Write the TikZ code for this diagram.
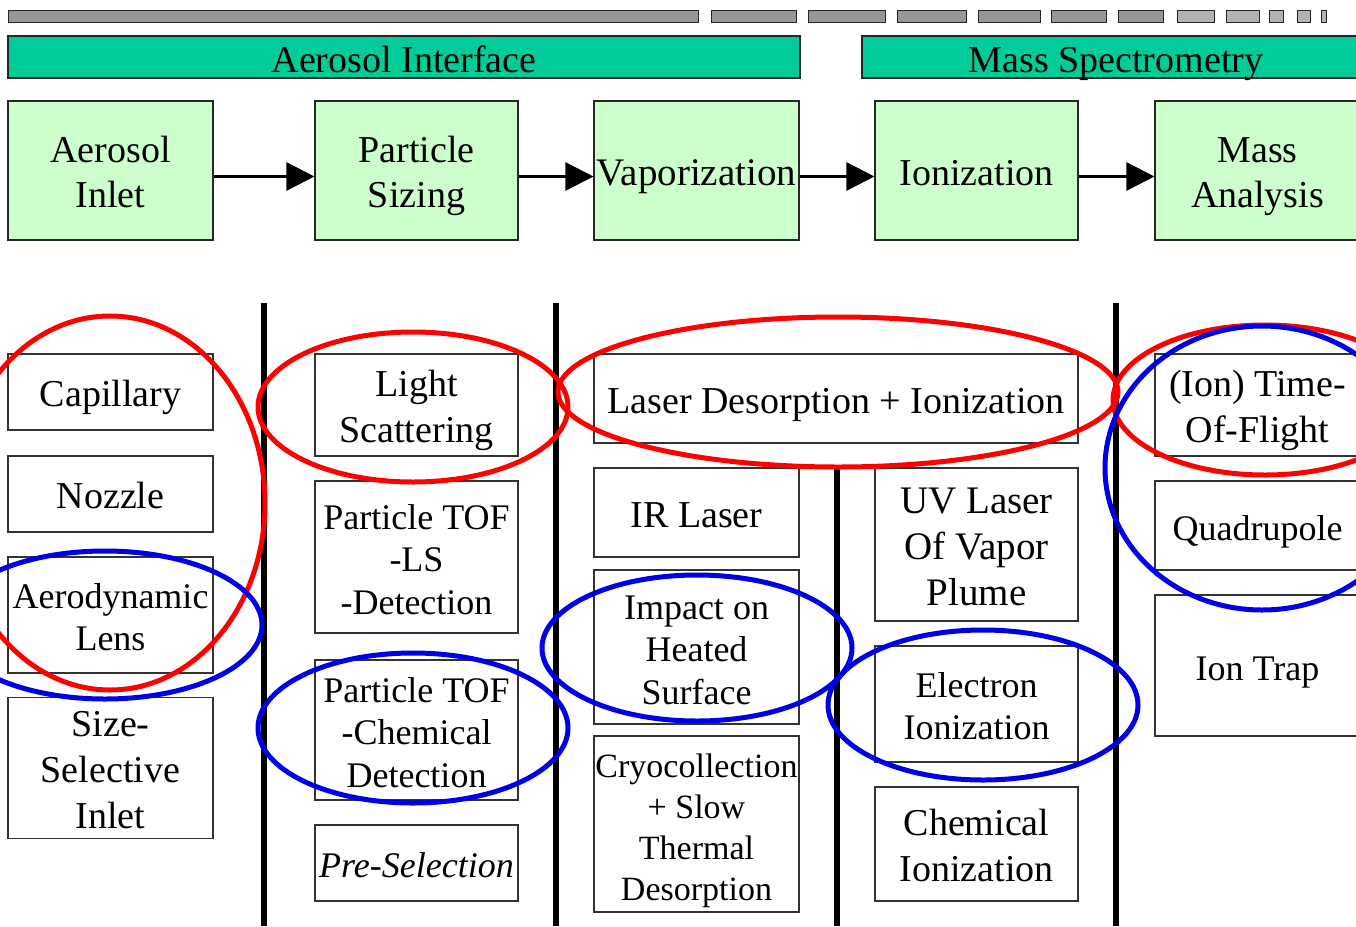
\documentclass[tikz,border=0pt]{standalone}
\usepackage{fontspec}
\setmainfont{Liberation Serif}
\usetikzlibrary{arrows.meta}
\definecolor{hdrgreen}{RGB}{0,204,153}
\definecolor{procgreen}{RGB}{204,255,204}
\definecolor{bargray}{RGB}{150,150,150}
\definecolor{barlight}{RGB}{178,178,178}
\definecolor{ringred}{RGB}{255,0,0}
\definecolor{ringblue}{RGB}{0,0,230}
\newcommand\mytop{\rule{0pt}{39pt}}
\newcommand\mybot{\rule[-10pt]{0pt}{10pt}}
\tikzset{
  hdr/.style={draw=black!85, line width=1.2pt, fill=hdrgreen, inner sep=0pt, minimum height=42pt, text height=31pt, text depth=0pt, font=\fontsize{38}{45}\selectfont},
  proc/.style={draw=black!85, line width=1.2pt, fill=procgreen, inner sep=0pt, align=center, minimum height=139pt, font=\fontsize{38}{45}\selectfont},
  box/.style={draw=black!80, line width=1.1pt, fill=white, inner sep=0pt, align=center, font=\fontsize{36}{42.5}\selectfont},
  big/.style={font=\fontsize{38}{46}\selectfont},
  seg/.style={draw=black!85, line width=1pt},
  flow/.style={line width=3pt, -{Triangle[length=28pt,width=28pt]}},
  divider/.style={line width=6pt, black},
  redring/.style={draw=ringred, line width=5pt},
  bluering/.style={draw=ringblue, line width=5pt}
}
\begin{document}
\begin{tikzpicture}[x=1pt,y=-1pt]
\useasboundingbox (0,0) rectangle (1356,926);
% top segmented bar
\draw[seg, fill=bargray] (8,10) rectangle (698,22);
\draw[seg, fill=bargray] (711,10) rectangle (796,22);
\draw[seg, fill=bargray] (808,10) rectangle (885,22);
\draw[seg, fill=bargray] (897,10) rectangle (966,22);
\draw[seg, fill=bargray] (978,10) rectangle (1040,22);
\draw[seg, fill=bargray] (1051,10) rectangle (1106,22);
\draw[seg, fill=bargray] (1118,10) rectangle (1163,22);
\draw[seg, fill=barlight] (1177,10) rectangle (1214,22);
\draw[seg, fill=barlight] (1226,10) rectangle (1259,22);
\draw[seg, fill=barlight] (1269,10) rectangle (1283,22);
\draw[seg, fill=barlight] (1297,10) rectangle (1310,22);
\draw[seg, fill=barlight] (1321,10) rectangle (1326,22);
% headers
\node[hdr, minimum width=792pt] (hai) at (404,57) {Aerosol Interface};
\node[hdr, minimum width=508pt] (hms) at (1116,57) {Mass Spectrometry};
% process boxes
\node[proc, minimum width=205pt] (inlet) at (110.5,170.5) {\mytop Aerosol\\Inlet\mybot};
\node[proc, minimum width=203pt] (sizing) at (416.5,170.5) {\mytop Particle\\Sizing\mybot};
\node[proc, minimum width=205pt, font=\fontsize{39}{45}\selectfont] (vapor) at (696.5,170.5) {\mytop Vaporization\mybot};
\node[proc, minimum width=203pt] (ioniz) at (976.5,170.5) {\mytop Ionization\mybot};
\node[proc, minimum width=205pt] (mass) at (1257.5,170.5) {\mytop Mass\\Analysis\mybot};
\draw[flow] ([yshift=-6pt]inlet.east) -- ([yshift=-6pt]sizing.west);
\draw[flow] ([yshift=-6pt]sizing.east) -- ([yshift=-6pt]vapor.west);
\draw[flow] ([yshift=-6pt]vapor.east) -- ([yshift=-6pt]ioniz.west);
\draw[flow] ([yshift=-6pt]ioniz.east) -- ([yshift=-6pt]mass.west);
% dividers
\draw[divider] (264,303) -- (264,926);
\draw[divider] (556,303) -- (556,926);
\draw[divider] (837,468) -- (837,926);
\draw[divider] (1116,303) -- (1116,926);
% column 1
\node[box, big, minimum width=205pt, minimum height=76pt] (cap) at (110.5,392) {\mytop Capillary\mybot};
\node[box, big, minimum width=205pt, minimum height=76pt] (noz) at (110.5,494) {\mytop Nozzle\mybot};
\node[box, minimum width=205pt, minimum height=116pt] (lens) at (110.5,615) {\mytop Aerodynamic\\Lens\mybot};
\node[box, big, minimum width=205pt, minimum height=140pt] (ssi) at (110.5,768) {\mytop Size-\\Selective\\Inlet\mybot};
% column 2
\node[box, big, minimum width=203pt, minimum height=102pt] (ls) at (416.5,405) {\mytop Light\\Scattering\mybot};
\node[box, minimum width=203pt, minimum height=152pt] (tofls) at (416.5,557) {\mytop Particle TOF\\-LS\\-Detection\mybot};
\node[box, minimum width=203pt, minimum height=140pt] (tofchem) at (416.5,730) {\mytop Particle TOF\\-Chemical\\Detection\mybot};
\node[box, minimum width=203pt, minimum height=76pt] (presel) at (416.5,863) {\mytop\itshape Pre-Selection\mybot};
% column 3
\node[box, big, minimum width=484pt, minimum height=89pt] (ldi) at (836,398.5) {\mytop Laser Desorption + Ionization\mybot};
\node[box, big, minimum width=205pt, minimum height=89pt] (ir) at (696.5,512.5) {\mytop IR Laser\mybot};
\node[box, minimum width=205pt, minimum height=154pt] (impact) at (696.5,647) {\mytop Impact on\\Heated\\Surface\mybot};
\node[box, minimum width=205pt, minimum height=176pt, font=\fontsize{34}{41}\selectfont] (cryo) at (696.5,824) {\mytop Cryocollection\\+ Slow\\Thermal\\Desorption\mybot};
% column 4
\node[box, minimum width=203pt, minimum height=153pt, font=\fontsize{39}{46}\selectfont] (uv) at (976.5,544.5) {\mytop UV Laser\\Of Vapor\\Plume\mybot};
\node[box, minimum width=203pt, minimum height=116pt] (ei) at (976.5,704) {\mytop Electron\\Ionization\mybot};
\node[box, big, minimum width=203pt, minimum height=114pt] (ci) at (976.5,844) {\mytop Chemical\\Ionization\mybot};
% column 5
\node[box, big, minimum width=205pt, minimum height=102pt] (tof) at (1257.5,405) {\mytop (Ion) Time-\\Of-Flight\mybot};
\node[box, minimum width=205pt, minimum height=89pt] (quad) at (1257.5,525.5) {\mytop Quadrupole\mybot};
\node[box, minimum width=205pt, minimum height=141pt] (trap) at (1257.5,665.5) {\mytop Ion Trap\mybot};
% red rings
\draw[redring] (110,503) ellipse [x radius=155pt, y radius=187pt];
\draw[redring] (413,407) ellipse [x radius=155pt, y radius=75pt];
\draw[redring] (838,392) ellipse [x radius=280pt, y radius=75pt];
\draw[redring] (1265,400) ellipse [x radius=152pt, y radius=75pt];
% blue rings
\draw[bluering] (105,625) ellipse [x radius=157pt, y radius=74pt];
\draw[bluering] (413,728) ellipse [x radius=155pt, y radius=75pt];
\draw[bluering] (697,648) ellipse [x radius=155pt, y radius=73pt];
\draw[bluering] (983,705) ellipse [x radius=155pt, y radius=75pt];
\draw[bluering] (1262,468) ellipse [x radius=157pt, y radius=142pt];
\end{tikzpicture}
\end{document}
